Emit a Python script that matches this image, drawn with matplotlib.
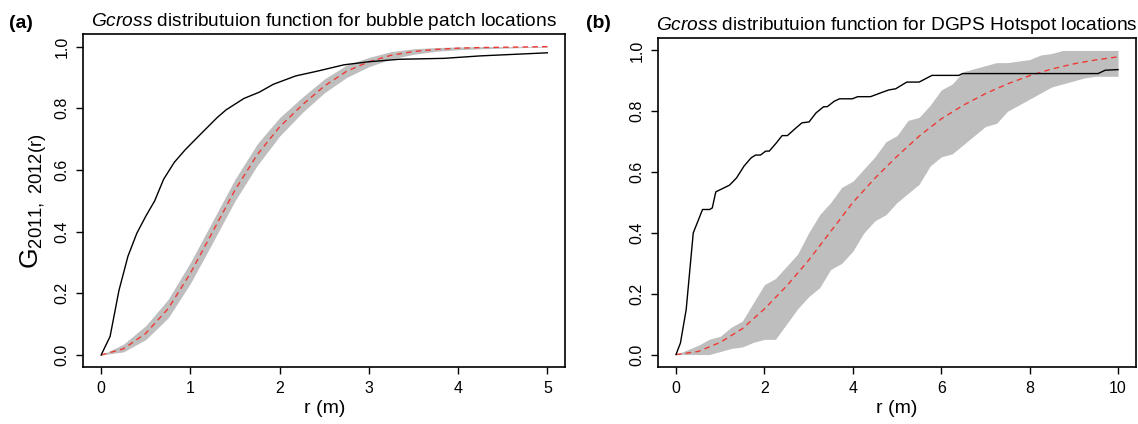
import numpy as np
import matplotlib.pyplot as plt

plt.rcParams['font.family'] = ['Liberation Sans', 'DejaVu Sans']
plt.rcParams['mathtext.fontset'] = 'custom'
plt.rcParams['mathtext.rm'] = 'Liberation Sans'
plt.rcParams['mathtext.it'] = 'Liberation Sans:italic'

# ---- panel (a): bubble patch locations ----
r_a_obs = [0, 0.1, 0.2, 0.3, 0.4, 0.5, 0.6, 0.7, 0.82, 0.94, 1.1, 1.3, 1.4, 1.6,
           1.77, 1.93, 2.18, 2.43, 2.72, 3.0, 3.34, 3.84, 4.25, 5.0]
g_a_obs = [0, 0.06, 0.21, 0.32, 0.395, 0.45, 0.50, 0.57, 0.625, 0.665, 0.712, 0.77,
           0.795, 0.832, 0.852, 0.878, 0.905, 0.921, 0.941, 0.951, 0.959, 0.962, 0.970, 0.98]

r_a = [0, 0.25, 0.5, 0.75, 1.0, 1.25, 1.5, 1.75, 2.0, 2.25, 2.5,
       2.75, 3.0, 3.25, 3.5, 3.75, 4.0, 4.25, 4.5, 4.75, 5.0]
g_a_theo = [0, 0.02, 0.07, 0.15, 0.265, 0.40, 0.535, 0.65, 0.74, 0.81, 0.872,
            0.92, 0.951, 0.972, 0.984, 0.991, 0.995, 0.997, 0.998, 0.999, 1.0]
g_a_hi = [0, 0.035, 0.095, 0.18, 0.30, 0.435, 0.57, 0.685, 0.77, 0.835, 0.895,
          0.94, 0.965, 0.984, 0.993, 0.997, 0.999, 1.0, 1.0, 1.0, 1.0]
g_a_lo = [0, 0.01, 0.05, 0.12, 0.232, 0.365, 0.50, 0.615, 0.71, 0.785, 0.85,
          0.90, 0.935, 0.96, 0.975, 0.985, 0.99, 0.993, 0.995, 0.997, 0.998]

# ---- panel (b): DGPS hotspot locations ----
r_b_obs = [0, 0.1, 0.23, 0.39, 0.6, 0.76, 0.82, 0.9, 1.21, 1.37, 1.54, 1.7, 1.8, 1.91,
           2.03, 2.11, 2.27, 2.4, 2.52, 2.72, 2.85, 3.01, 3.17, 3.34, 3.42, 3.58, 3.7,
           3.99, 4.11, 4.4, 4.64, 4.81, 4.97, 5.22, 5.5, 5.79, 6.4, 6.48, 9.55, 9.71, 10.0]
g_b_obs = [0, 0.038, 0.148, 0.40, 0.477, 0.477, 0.482, 0.535, 0.557, 0.581, 0.62, 0.647,
           0.656, 0.656, 0.669, 0.669, 0.696, 0.72, 0.72, 0.746, 0.762, 0.765, 0.795,
           0.815, 0.815, 0.833, 0.841, 0.841, 0.848, 0.848, 0.861, 0.87, 0.874, 0.896,
           0.896, 0.918, 0.918, 0.924, 0.924, 0.935, 0.937]

r_b = [0, 0.5, 1.0, 1.5, 2.0, 2.5, 3.0, 3.5, 4.0, 4.5, 5.0, 5.5, 6.0, 6.5, 7.0,
       7.5, 8.0, 8.5, 9.0, 9.5, 10.0]
g_b_theo = [0, 0.01, 0.04, 0.085, 0.15, 0.225, 0.31, 0.405, 0.50, 0.58, 0.652,
            0.718, 0.775, 0.82, 0.858, 0.89, 0.917, 0.939, 0.956, 0.969, 0.979]

r_b_env = [0, 0.25, 0.5, 0.75, 1.0, 1.25, 1.5, 1.75, 2.0, 2.25, 2.5, 2.75, 3.0, 3.25,
           3.5, 3.75, 4.0, 4.25, 4.5, 4.75, 5.0, 5.25, 5.5, 5.75, 6.0, 6.25, 6.5, 6.75,
           7.0, 7.25, 7.5, 7.75, 8.0, 8.25, 8.5, 8.75, 9.0, 9.25, 9.5, 9.75, 10.0]
g_b_hi = [0, 0.015, 0.03, 0.05, 0.06, 0.09, 0.11, 0.17, 0.23, 0.25, 0.29, 0.33, 0.40,
          0.46, 0.50, 0.55, 0.57, 0.61, 0.65, 0.70, 0.72, 0.77, 0.78, 0.82, 0.87, 0.89,
          0.93, 0.94, 0.95, 0.96, 0.96, 0.965, 0.97, 0.985, 0.99, 1.0, 1.0, 1.0, 1.0,
          1.0, 1.0]
g_b_lo = [0, 0, 0, 0, 0.01, 0.02, 0.025, 0.04, 0.05, 0.05, 0.10, 0.15, 0.19, 0.22,
          0.28, 0.30, 0.34, 0.40, 0.44, 0.46, 0.50, 0.53, 0.56, 0.62, 0.65, 0.66, 0.69,
          0.72, 0.75, 0.76, 0.80, 0.82, 0.84, 0.86, 0.88, 0.89, 0.90, 0.91, 0.915,
          0.915, 0.915]

fig = plt.figure(figsize=(11.38, 4.24), dpi=100)
ax_a = fig.add_axes([0.0732, 0.1337, 0.4235, 0.7854])
ax_b = fig.add_axes([0.5785, 0.1351, 0.4195, 0.7746])

band_col = '#bebebe'
red_col = '#ee3a35'


def draw_panel(ax, r_env, lo, hi, r_theo, theo, r_obs, obs, xticks, xlim):
    ax.fill_between(r_env, lo, hi, color=band_col, lw=0)
    ax.plot(r_theo, theo, color=red_col, lw=1.0, ls=(0, (4, 3)))
    ax.plot(r_obs, obs, color='black', lw=1.0)
    ax.set_xlim(*xlim)
    ax.set_ylim(-0.04, 1.04)
    ax.set_xticks(xticks)
    ax.set_yticks([0.0, 0.2, 0.4, 0.6, 0.8, 1.0])
    ax.set_yticklabels(['0.0', '0.2', '0.4', '0.6', '0.8', '1.0'],
                       rotation=90, va='center')
    ax.tick_params(direction='out', length=5, width=1, labelsize=11.5, pad=5)
    for s in ax.spines.values():
        s.set_linewidth(1.2)
    ax.set_xlabel('r (m)', fontsize=14, labelpad=3)


draw_panel(ax_a, r_a, g_a_lo, g_a_hi, r_a, g_a_theo, r_a_obs, g_a_obs,
           [0, 1, 2, 3, 4, 5], (-0.2, 5.2))
draw_panel(ax_b, r_b_env, g_b_lo, g_b_hi, r_b, g_b_theo, r_b_obs, g_b_obs,
           [0, 2, 4, 6, 8, 10], (-0.4, 10.4))

ax_a.set_ylabel(r'$\mathregular{G_{2011,\ 2012(r)}}$', fontsize=19, labelpad=4)

ax_a.set_title(r'$\mathit{Gcross}$ distributuion function for bubble patch locations',
               fontsize=13.8, pad=6)
ax_b.set_title(r'$\mathit{Gcross}$ distributuion function for DGPS Hotspot locations',
               fontsize=13.8, pad=6)

fig.text(0.008, 0.945, '(a)', fontsize=14, fontweight='bold', va='center')
fig.text(0.515, 0.945, '(b)', fontsize=14, fontweight='bold', va='center')

fig.savefig('out.png', dpi=100)
